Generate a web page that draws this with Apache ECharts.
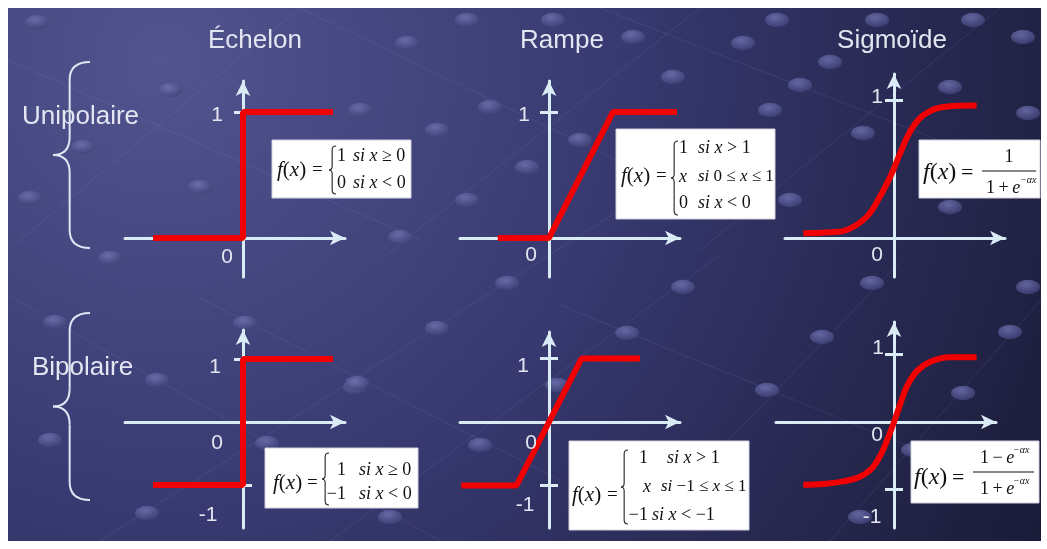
<!DOCTYPE html>
<html>
<head>
<meta charset="utf-8">
<script src="https://cdn.jsdelivr.net/npm/echarts@6/dist/echarts.min.js"></script>
<style>
  html, body { margin: 0; padding: 0; background: #ffffff; }
  #chart { width: 1047px; height: 549px; }
</style>
</head>
<body>
<div id="chart"></div>
<script>
// ---- Text ----
const columnTitles = ['Échelon', 'Rampe', 'Sigmoïde'];
const rowLabels = ['Unipolaire', 'Bipolaire'];

// ---- Tick labels and tick marks on the vertical axes ----
const uniTickLabels = [0, 1];
const biTickLabels = [-1, 0, 1];
const uniTickMarks = [1];
const biTickMarks = [-1, 1];

// ---- Échelon ----
const stepUniX = [-2, 0, 0, 2];
const stepUniY = [0, 0, 1, 1];
const stepBiX = [-2, 0, 0, 2];
const stepBiY = [-1, -1, 1, 1];

// ---- Rampe ----
const rampUniX = [-0.8, 0, 1, 2];
const rampUniY = [0, 0, 1, 1];
const rampBiX = [-2.7, -1, 1, 2.8];
const rampBiY = [-1, -1, 1, 1];

// ---- Sigmoïde ----
const sigUniX = [-3.36, -2.37, -1.75, -1.01, -0.52, -0.15, 0, 0.22, 0.59, 1.09, 1.83, 3.06];
const sigUniY = [0.034, 0.041, 0.058, 0.154, 0.30, 0.44, 0.505, 0.61, 0.77, 0.89, 0.95, 0.96];
const sigBiX = [-3.36, -2.62, -1.88, -1.26, -0.83, -0.46, -0.21, 0, 0.22, 0.47, 0.84, 1.33, 2.07, 3.06];
const sigBiY = [-0.93, -0.92, -0.88, -0.81, -0.69, -0.46, -0.22, 0, 0.25, 0.52, 0.75, 0.89, 0.96, 0.96];

// ---- Styles ----
const AXIS = '#d9ecf6';
const RED = '#f00000';
const LABEL = '#e3e5f1';
const SANS = '"Liberation Sans", Arial, sans-serif';
const SERIF = '"Liberation Serif", "Times New Roman", serif';

// ---- Layout of the six small plots (pixels): origin, unit sizes, axis extents ----
const panels = [
  { ox: 243, oy: 238, ux: 45, uy: 126, xl: 125, xr: 345, yt: 81, yb: 277,
    xs: stepUniX, ys: stepUniY, ticks: uniTickMarks, labels: uniTickLabels,
    labelOffsets: [[-16, 19], [-26, 3]], smooth: false },
  { ox: 549, oy: 238, ux: 64, uy: 126, xl: 460, xr: 680, yt: 81, yb: 277,
    xs: rampUniX, ys: rampUniY, ticks: uniTickMarks, labels: uniTickLabels,
    labelOffsets: [[-18, 17], [-25, 3]], smooth: false },
  { ox: 894, oy: 238, ux: 27, uy: 138, xl: 785, xr: 1005, yt: 74, yb: 277,
    xs: sigUniX, ys: sigUniY, ticks: uniTickMarks, labels: uniTickLabels,
    labelOffsets: [[-17, 17], [-17, -3]], smooth: 0.4 },
  { ox: 243, oy: 422, ux: 45, uy: 63, xl: 125, xr: 345, yt: 330, yb: 528,
    xs: stepBiX, ys: stepBiY, ticks: biTickMarks, labels: biTickLabels,
    labelOffsets: [[-35, 30], [-26, 21], [-28, 8]], smooth: false },
  { ox: 549, oy: 422, ux: 32.5, uy: 63.5, xl: 460, xr: 680, yt: 332, yb: 528,
    xs: rampBiX, ys: rampBiY, ticks: biTickMarks, labels: biTickLabels,
    labelOffsets: [[-24, 20], [-18, 21], [-26, 8]], smooth: false },
  { ox: 894, oy: 422, ux: 27, uy: 67.5, xl: 776, xr: 996, yt: 322, yb: 528,
    xs: sigBiX, ys: sigBiY, ticks: biTickMarks, labels: biTickLabels,
    labelOffsets: [[-22, 28], [-17, 13], [-16, -6]], smooth: 0.4 }
];

// ---- Background ornaments (dots and faint lattice lines) ----
const ornamentDots = [
  [37, 22], [170, 90], [83, 147], [30, 198], [200, 187], [110, 258],
  [467, 20], [407, 43], [360, 110], [437, 130], [490, 107], [527, 167], [580, 140],
  [553, 20], [633, 37], [673, 77], [467, 200], [400, 237],
  [777, 20], [743, 43], [830, 62], [800, 85], [877, 20], [973, 20], [1023, 37],
  [770, 110], [863, 133], [950, 87], [1028, 113], [790, 200], [950, 207],
  [55, 322], [50, 440], [157, 380], [147, 513], [245, 323], [355, 387], [267, 443],
  [507, 283], [437, 328], [357, 383], [480, 445], [557, 385], [627, 333], [390, 517], [683, 287],
  [872, 283], [822, 337], [767, 390], [1010, 332], [963, 393], [913, 450], [860, 517], [1028, 287]
];
const ornamentLines = [
  [[100, 541], [620, 210]], [[330, 541], [720, 255]], [[830, 541], [1041, 300]], [[700, 470], [900, 262]],
  [[8, 295], [440, 541]], [[200, 298], [560, 480]], [[560, 305], [1041, 500]],
  [[8, 60], [420, 240]], [[300, 8], [700, 200]], [[600, 8], [1041, 180]],
  [[380, 260], [700, 8]], [[700, 250], [1000, 8]], [[8, 250], [300, 8]]
];

const chart = echarts.init(document.getElementById('chart'), null, { renderer: 'canvas', width: 1047, height: 549 });

const axisLineStyle = { color: AXIS, width: 3 };

const option = {
  animation: false,
  backgroundColor: '#ffffff',
  grid: panels.map(p => ({
    left: p.xl, top: p.yt, width: p.xr - p.xl, height: p.yb - p.yt,
    containLabel: false, outerBoundsMode: 'none', show: false
  })),
  xAxis: panels.map((p, i) => ({
    type: 'value', gridIndex: i,
    min: (p.xl - p.ox) / p.ux, max: (p.xr - p.ox) / p.ux,
    axisLine: { show: true, onZero: true, symbol: ['none', 'arrow'], symbolSize: [11, 15], lineStyle: axisLineStyle },
    axisTick: { show: false }, axisLabel: { show: false }, splitLine: { show: false }
  })),
  yAxis: panels.flatMap((p, i) => {
    const base = {
      type: 'value', gridIndex: i, position: 'left',
      min: (p.oy - p.yb) / p.uy, max: (p.oy - p.yt) / p.uy,
      axisLabel: { show: false }, splitLine: { show: false }
    };
    return [
      // main vertical axis, crossing the horizontal one at zero, ticks pointing left
      Object.assign({}, base, {
        axisLine: { show: true, onZero: true, symbol: ['none', 'arrow'], symbolSize: [11, 15], lineStyle: axisLineStyle },
        axisTick: { show: true, customValues: p.ticks, length: 9, lineStyle: axisLineStyle }
      }),
      // companion axis at the same place, carrying the right half of each tick
      Object.assign({}, base, {
        offset: -(p.ox - p.xl),
        axisLine: { show: true, onZero: false, symbol: 'none', lineStyle: { color: AXIS, width: 3, opacity: 0 } },
        axisTick: { show: true, inside: true, customValues: p.ticks, length: 9, lineStyle: axisLineStyle }
      })
    ];
  }),
  series: panels.map((p, i) => ({
    type: 'line', xAxisIndex: i, yAxisIndex: 2 * i,
    data: p.xs.map((x, k) => [x, p.ys[k]]),
    showSymbol: false, symbol: 'none', smooth: p.smooth, silent: true, z: 3,
    lineStyle: { color: RED, width: 6 }
  }))
};

chart.setOption(option);

// ---- Decorative and text elements ----
// A curly brace made of quadratic curves and straight strokes
function braceElements(x, top, bottom, w, r, style, z) {
  const m = (top + bottom) / 2;
  const c = x + w * 0.45;
  const q = (x1, y1, cx, cy, x2, y2) => ({ type: 'bezierCurve', z: z,
    shape: { x1: x1, y1: y1, cpx1: cx, cpy1: cy, x2: x2, y2: y2 }, style: Object.assign({ fill: null }, style) });
  const l = (x1, y1, x2, y2) => ({ type: 'line', z: z,
    shape: { x1: x1, y1: y1, x2: x2, y2: y2 }, style: Object.assign({}, style) });
  return [
    q(x + w, top, c, top, c, top + r),
    l(c, top + r, c, m - r),
    q(c, m - r, c, m, x, m),
    q(x, m, c, m, c, m + r),
    l(c, m + r, c, bottom - r),
    q(c, bottom - r, c, bottom, x + w, bottom)
  ];
}

function mathText(x, y, text, size, align) {
  return {
    type: 'text', x: x, y: y, z: 22,
    style: {
      text: text, fontSize: size, fontFamily: SERIF, fill: '#111111',
      textAlign: align || 'left', textVerticalAlign: 'middle',
      rich: { i: { fontStyle: 'italic', fontSize: size, fontFamily: SERIF, fill: '#111111' } }
    }
  };
}
function supText(x, y, text) {
  return { type: 'text', x: x, y: y, z: 22,
    style: { text: text, fontSize: 10, fontFamily: SERIF, fontStyle: 'italic', fill: '#111111',
      textAlign: 'left', textVerticalAlign: 'middle' } };
}
function boxRect(x, y, w, h) {
  return { type: 'rect', z: 21, shape: { x: x, y: y, width: w, height: h },
    style: { fill: '#ffffff', stroke: '#cfd0dc', lineWidth: 1 } };
}
function mathBrace(x, top, bottom) {
  return braceElements(x, top, bottom, 7, 4, { stroke: '#222222', lineWidth: 1.1 }, 22);
}
function fracBar(x1, x2, y) {
  return { type: 'line', z: 22, shape: { x1: x1, y1: y, x2: x2, y2: y },
    style: { stroke: '#111111', lineWidth: 1.1 } };
}
// left-hand side "f(x) ="
function lhs(x, eqX, y, size) {
  const s = size || 21;
  return [mathText(x, y, '{i|f}({i|x})', s), mathText(eqX, y, '=', s - 2)];
}

const FS = 18;
const TS = '\u2009';
const formulaElements = [].concat(
  // Échelon, unipolaire
  boxRect(272, 140, 139, 58),
  lhs(277, 312, 170),
  mathBrace(329, 146, 194),
  mathText(337, 156, '1', FS), mathText(337, 183, '0', FS),
  mathText(353, 156, '{i|si x} ≥ 0', FS), mathText(353, 183, '{i|si x} < 0', FS),

  // Rampe, unipolaire
  boxRect(616, 129, 159, 90),
  lhs(621, 656, 176),
  mathBrace(671, 141, 215),
  mathText(679, 148, '1', FS), mathText(679, 177, '{i|x}', FS), mathText(679, 203, '0', FS),
  mathText(698, 148, '{i|si x} > 1', FS), mathText(698, 177, '{i|si} 0 ≤ {i|x} ≤ 1', 17),
  mathText(698, 203, '{i|si x} < 0', FS),

  // Sigmoïde, unipolaire
  boxRect(919, 140, 121, 58),
  lhs(923, 961, 173, 24),
  fracBar(982, 1036, 171),
  mathText(1009, 157, '1', FS, 'center'),
  mathText(986, 188, '1' + TS + '+' + TS + '{i|e}', FS), supText(1020, 180, '−αx'),

  // Échelon, bipolaire
  boxRect(265, 448, 153, 60),
  lhs(273, 307, 483),
  mathBrace(322, 453, 505),
  mathText(346, 470, '1', FS, 'right'), mathText(346, 494, '−1', FS, 'right'),
  mathText(359, 470, '{i|si x} ≥ 0', FS), mathText(359, 494, '{i|si x} < 0', FS),

  // Rampe, bipolaire
  boxRect(569, 441, 180, 89),
  lhs(572, 607, 495),
  mathBrace(621, 450, 524),
  mathText(648, 458, '1', FS, 'right'), mathText(651, 487, '{i|x}', FS, 'right'),
  mathText(648, 515, '−1', FS, 'right'),
  mathText(667, 458, '{i|si x} > 1', FS), mathText(661, 487, '{i|si} −1 ≤ {i|x} ≤ 1', 17),
  mathText(652, 515, '{i|si x} < −1', FS),

  // Sigmoïde, bipolaire
  boxRect(911, 441, 128, 62),
  lhs(914, 952, 478, 24),
  fracBar(973, 1034, 472),
  mathText(980, 458, '1' + TS + '−' + TS + '{i|e}', FS), supText(1013, 450, '−αx'),
  mathText(980, 489, '1' + TS + '+' + TS + '{i|e}', FS), supText(1013, 481, '−αx')
);

const backgroundElements = [
  { type: 'rect', z: -30, shape: { x: 8, y: 8, width: 1033, height: 533 },
    style: { fill: new echarts.graphic.RadialGradient(0.15, 0.1, 1.9, [
      { offset: 0, color: '#52548f' },
      { offset: 0.45, color: '#373970' },
      { offset: 1, color: '#1a1b37' }
    ]) } }
].concat(ornamentLines.map(l => ({
  type: 'line', z: -29, shape: { x1: l[0][0], y1: l[0][1], x2: l[1][0], y2: l[1][1] },
  style: { stroke: '#9a9cd6', lineWidth: 1, opacity: 0.13 }
}))).concat(ornamentDots.map(d => ({
  type: 'circle', z: -28, x: d[0], y: d[1], scaleY: 0.6,
  shape: { cx: 0, cy: 0, r: 12 },
  style: { fill: new echarts.graphic.RadialGradient(0.42, 0.32, 0.75, [
    { offset: 0, color: '#7275b4' },
    { offset: 1, color: '#3b3d72' }
  ]), opacity: 0.8 }
})));

const braceStyle = { stroke: '#dce8f4', lineWidth: 2 };
const titleElements = [
  { x: 255, text: columnTitles[0] },
  { x: 562, text: columnTitles[1] },
  { x: 892, text: columnTitles[2] }
].map(t => ({
  type: 'text', x: t.x, y: 41, z: 5,
  style: { text: t.text, fontSize: 26, fontFamily: SANS, fill: LABEL, textAlign: 'center', textVerticalAlign: 'middle' }
})).concat([
  { type: 'text', x: 22, y: 117, z: 5,
    style: { text: rowLabels[0], fontSize: 26, fontFamily: SANS, fill: LABEL, textAlign: 'left', textVerticalAlign: 'middle' } },
  { type: 'text', x: 32, y: 368, z: 5,
    style: { text: rowLabels[1], fontSize: 26, fontFamily: SANS, fill: LABEL, textAlign: 'left', textVerticalAlign: 'middle' } }
], braceElements(53, 62, 248, 37, 18, braceStyle, 4), braceElements(53, 313, 500, 37, 18, braceStyle, 4));

// Tick labels placed from the axes' own value-to-pixel conversion
const tickLabelElements = [];
panels.forEach((p, i) => {
  p.labels.forEach((v, k) => {
    const pt = chart.convertToPixel({ xAxisIndex: i, yAxisIndex: 2 * i }, [0, v]);
    const off = p.labelOffsets[k];
    tickLabelElements.push({
      type: 'text', x: pt[0] + off[0], y: pt[1] + off[1], z: 5,
      style: { text: v < 0 ? '-' + Math.abs(v) : String(v), fontSize: 21, fontFamily: SANS, fill: LABEL,
        textAlign: 'center', textVerticalAlign: 'middle' }
    });
  });
});

chart.setOption({
  graphic: { elements: backgroundElements.concat(titleElements, tickLabelElements, formulaElements) }
});
</script>
</body>
</html>
